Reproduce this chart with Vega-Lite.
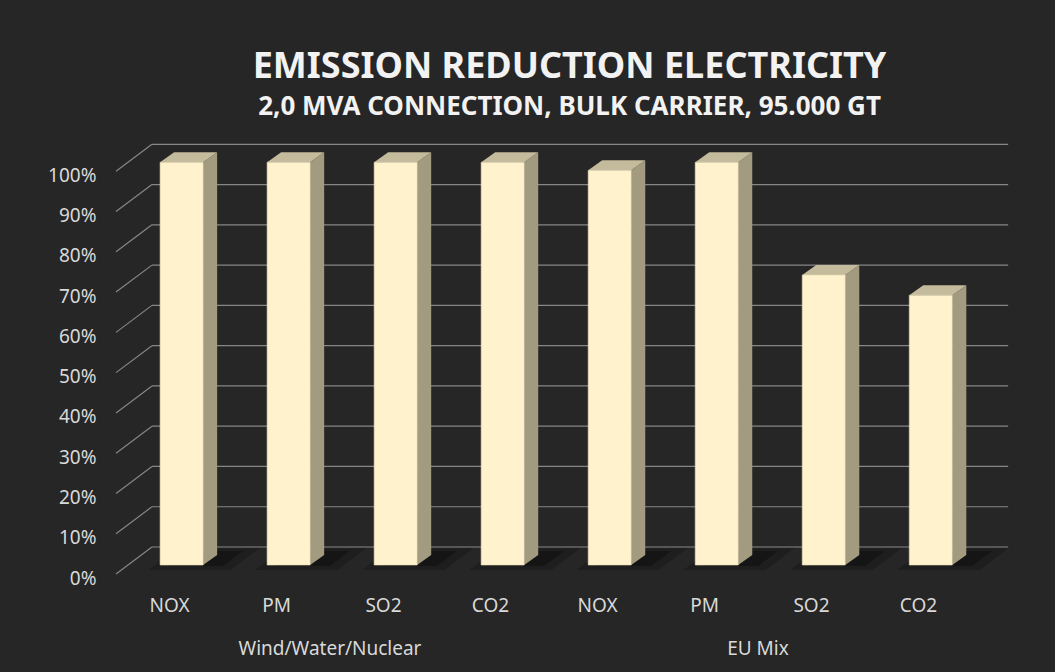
{
  "$schema": "https://vega.github.io/schema/vega-lite/v6.json",
  "width": 899,
  "height": 443,
  "autosize": {"type": "none"},
  "padding": {"left": 116, "top": 131, "right": 40, "bottom": 98},
  "background": "#262626",
  "config": {
    "view": {"stroke": null},
    "font": "Noto Sans"
  },
  "title": {
    "text": "EMISSION REDUCTION ELECTRICITY",
    "subtitle": "2,0 MVA CONNECTION, BULK CARRIER, 95.000 GT",
    "anchor": "middle",
    "frame": "group",
    "dx": 4,
    "font": "Noto Sans",
    "fontWeight": "bold",
    "fontSize": 36,
    "color": "#F2F2F2",
    "subtitleFont": "Noto Sans",
    "subtitleFontWeight": "bold",
    "subtitleFontSize": 26,
    "subtitleColor": "#F2F2F2",
    "subtitlePadding": 8,
    "offset": 10
  },
  "datasets": {
    "emissions": [
      {"group": "Wind/Water/Nuclear", "pollutant": "NOX", "value": 1.0},
      {"group": "Wind/Water/Nuclear", "pollutant": "PM", "value": 1.0},
      {"group": "Wind/Water/Nuclear", "pollutant": "SO2", "value": 1.0},
      {"group": "Wind/Water/Nuclear", "pollutant": "CO2", "value": 1.0},
      {"group": "EU Mix", "pollutant": "NOX", "value": 0.98},
      {"group": "EU Mix", "pollutant": "PM", "value": 1.0},
      {"group": "EU Mix", "pollutant": "SO2", "value": 0.72},
      {"group": "EU Mix", "pollutant": "CO2", "value": 0.67}
    ],
    "ticks": [
      {"t": 0}, {"t": 0.1}, {"t": 0.2}, {"t": 0.3}, {"t": 0.4}, {"t": 0.5},
      {"t": 0.6}, {"t": 0.7}, {"t": 0.8}, {"t": 0.9}, {"t": 1.0}
    ]
  },
  "layer": [
    {
      "layer": [
        {
          "description": "side-wall gridlines running from the front edge to the back wall",
          "data": {"name": "ticks"},
          "transform": [{"calculate": "datum.t + 0.067", "as": "tb"}],
          "mark": {"type": "rule", "color": "#868686", "strokeWidth": 1.2},
          "encoding": {
            "x": {"datum": 0, "type": "quantitative", "scale": {"domain": [0, 8.4], "nice": false, "zero": false}, "axis": null},
            "x2": {"datum": 0.336},
            "y": {
              "field": "t",
              "type": "quantitative",
              "scale": {"domain": [0, 1.1], "nice": false, "zero": true},
              "axis": {
                "values": [0, 0.1, 0.2, 0.3, 0.4, 0.5, 0.6, 0.7, 0.8, 0.9, 1.0],
                "format": ".0%",
                "domain": false,
                "ticks": false,
                "grid": false,
                "title": null,
                "labelPadding": 20,
                "labelFont": "Noto Sans",
                "labelFontSize": 19,
                "labelColor": "#D9D9D9",
                "labelOffset": 4
              }
            },
            "y2": {"field": "tb"}
          }
        },
        {
          "description": "back-wall gridlines",
          "data": {"name": "ticks"},
          "transform": [{"calculate": "datum.t + 0.067", "as": "tb"}],
          "mark": {"type": "rule", "color": "#868686", "strokeWidth": 1.2},
          "encoding": {
            "x": {"datum": 0.336, "type": "quantitative", "scale": {"domain": [0, 8.4], "nice": false, "zero": false}},
            "x2": {"datum": 8.336},
            "y": {"field": "tb", "type": "quantitative", "scale": {"domain": [0, 1.1], "nice": false}}
          }
        },
        {
          "description": "soft floor shadow behind each bar",
          "data": {"name": "emissions"},
          "transform": [
            {"window": [{"op": "row_number", "as": "rn"}]},
            {"calculate": "datum.rn - 1", "as": "i"},
            {"calculate": "0", "as": "p0"},
            {"calculate": "1", "as": "p1"},
            {"fold": ["p0", "p1"], "as": ["corner", "s"]},
            {"calculate": "0.15 + 0.8 * datum.s", "as": "f"},
            {"calculate": "0.067 * datum.f", "as": "sy"},
            {"calculate": "datum.i + 0.25 + 0.336 * datum.f", "as": "sx"},
            {"calculate": "datum.i + 1.02 + 0.336 * datum.f", "as": "sx2"}
          ],
          "mark": {"type": "area", "orient": "horizontal", "color": "#000000", "opacity": 0.2},
          "encoding": {
            "y": {"field": "sy", "type": "quantitative", "scale": {"domain": [0, 1.1], "nice": false}},
            "x": {"field": "sx", "type": "quantitative", "stack": null, "scale": {"domain": [0, 8.4], "nice": false, "zero": false}},
            "x2": {"field": "sx2"},
            "detail": {"field": "i", "type": "nominal"}
          }
        },
        {
          "description": "darker core of the floor shadow",
          "data": {"name": "emissions"},
          "transform": [
            {"window": [{"op": "row_number", "as": "rn"}]},
            {"calculate": "datum.rn - 1", "as": "i"},
            {"calculate": "0", "as": "p0"},
            {"calculate": "1", "as": "p1"},
            {"fold": ["p0", "p1"], "as": ["corner", "s"]},
            {"calculate": "0.3 + 0.55 * datum.s", "as": "f"},
            {"calculate": "0.067 * datum.f", "as": "sy"},
            {"calculate": "datum.i + 0.38 + 0.336 * datum.f", "as": "sx"},
            {"calculate": "datum.i + 0.9 + 0.336 * datum.f", "as": "sx2"}
          ],
          "mark": {"type": "area", "orient": "horizontal", "color": "#000000", "opacity": 0.28},
          "encoding": {
            "y": {"field": "sy", "type": "quantitative", "scale": {"domain": [0, 1.1], "nice": false}},
            "x": {"field": "sx", "type": "quantitative", "stack": null, "scale": {"domain": [0, 8.4], "nice": false, "zero": false}},
            "x2": {"field": "sx2"},
            "detail": {"field": "i", "type": "nominal"}
          }
        },
        {
          "description": "bar side faces",
          "data": {"name": "emissions"},
          "transform": [
            {"window": [{"op": "row_number", "as": "rn"}]},
            {"calculate": "datum.rn - 1", "as": "i"},
            {"calculate": "0", "as": "p0"},
            {"calculate": "1", "as": "p1"},
            {"fold": ["p0", "p1"], "as": ["corner", "s"]},
            {"calculate": "datum.i + 0.814 + 0.131 * datum.s", "as": "sx"},
            {"calculate": "0.0223 + 0.0248 * datum.s", "as": "sy"},
            {"calculate": "datum.value + 0.0223 + 0.0248 * datum.s", "as": "sy2"}
          ],
          "mark": {"type": "area", "orient": "vertical", "color": "#A39B80"},
          "encoding": {
            "x": {"field": "sx", "type": "quantitative", "scale": {"domain": [0, 8.4], "nice": false, "zero": false}},
            "y": {"field": "sy", "type": "quantitative", "stack": null, "scale": {"domain": [0, 1.1], "nice": false}},
            "y2": {"field": "sy2"},
            "detail": {"field": "i", "type": "nominal"}
          }
        },
        {
          "description": "bar top faces",
          "data": {"name": "emissions"},
          "transform": [
            {"window": [{"op": "row_number", "as": "rn"}]},
            {"calculate": "datum.rn - 1", "as": "i"},
            {"calculate": "0", "as": "p0"},
            {"calculate": "1", "as": "p1"},
            {"fold": ["p0", "p1"], "as": ["corner", "s"]},
            {"calculate": "datum.value + 0.0223 + 0.0248 * datum.s", "as": "ty"},
            {"calculate": "datum.i + 0.412 + 0.131 * datum.s", "as": "tx"},
            {"calculate": "datum.i + 0.814 + 0.131 * datum.s", "as": "tx2"}
          ],
          "mark": {"type": "area", "orient": "horizontal", "color": "#C3BB9B"},
          "encoding": {
            "y": {"field": "ty", "type": "quantitative", "scale": {"domain": [0, 1.1], "nice": false}},
            "x": {"field": "tx", "type": "quantitative", "stack": null, "scale": {"domain": [0, 8.4], "nice": false, "zero": false}},
            "x2": {"field": "tx2"},
            "detail": {"field": "i", "type": "nominal"}
          }
        },
        {
          "description": "bar front faces",
          "data": {"name": "emissions"},
          "transform": [
            {"window": [{"op": "row_number", "as": "rn"}]},
            {"calculate": "datum.rn - 1", "as": "i"},
            {"calculate": "datum.i + 0.412", "as": "fx"},
            {"calculate": "datum.i + 0.814", "as": "fx2"},
            {"calculate": "0.0223", "as": "fy"},
            {"calculate": "datum.value + 0.0223", "as": "fy2"}
          ],
          "mark": {"type": "rect", "color": "#FFF2CC", "stroke": "#E6DCB8", "strokeWidth": 0.6},
          "encoding": {
            "x": {"field": "fx", "type": "quantitative", "scale": {"domain": [0, 8.4], "nice": false, "zero": false}},
            "x2": {"field": "fx2"},
            "y": {"field": "fy", "type": "quantitative", "scale": {"domain": [0, 1.1], "nice": false}},
            "y2": {"field": "fy2"}
          }
        }
      ]
    },
    {
      "description": "pollutant labels under each bar",
      "data": {"name": "emissions"},
      "transform": [{"calculate": "datum.group + '|' + datum.pollutant", "as": "key"}],
      "mark": {"type": "point", "opacity": 0},
      "encoding": {
        "x": {
          "field": "key",
          "type": "nominal",
          "sort": null,
          "scale": {"type": "band", "paddingInner": 0, "paddingOuter": 0.201, "align": 0},
          "axis": {
            "orient": "bottom",
            "labelExpr": "split(datum.label, '|')[1]",
            "labelAngle": 0,
            "domain": false,
            "ticks": false,
            "grid": false,
            "title": null,
            "labelPadding": 22,
            "labelFont": "Noto Sans",
            "labelFontSize": 19,
            "labelColor": "#D9D9D9"
          }
        }
      }
    },
    {
      "description": "source group labels",
      "data": {"name": "emissions"},
      "mark": {"type": "point", "opacity": 0},
      "encoding": {
        "x": {
          "field": "group",
          "type": "nominal",
          "sort": null,
          "scale": {"type": "band", "paddingInner": 0, "paddingOuter": 0.0502, "align": 0},
          "axis": {
            "orient": "bottom",
            "labelAngle": 0,
            "labelLimit": 400,
            "domain": false,
            "ticks": false,
            "grid": false,
            "title": null,
            "labelPadding": 65,
            "labelFont": "Noto Sans",
            "labelFontSize": 19,
            "labelColor": "#D9D9D9"
          }
        }
      }
    }
  ],
  "resolve": {"scale": {"x": "independent"}, "axis": {"x": "independent"}}
}
